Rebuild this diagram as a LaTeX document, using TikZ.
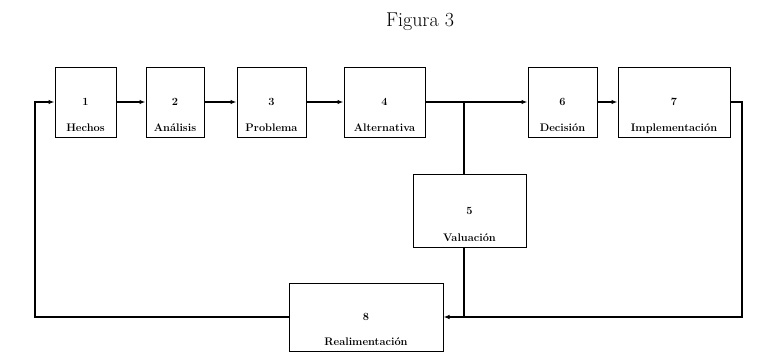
\documentclass[tikz,border=0pt]{standalone}
\usepackage{fontspec}
\usetikzlibrary{arrows.meta}
\tikzstyle{etapa} = [draw=black, line width=1pt, rectangle,
    minimum height=70pt, inner sep=0pt, font=\fontsize{11}{13}\selectfont\bfseries]
\tikzstyle{rotulo} = [anchor=south, inner sep=6pt, text depth=0pt,
    font=\fontsize{11}{13}\selectfont\bfseries\addfontfeatures{LetterSpace=15}]
\tikzstyle{flecha} = [line width=1.1pt, -{Latex[length=6pt,width=4.5pt]}]
\tikzstyle{linea} = [line width=1.1pt]
\tikzstyle{titulo} = [font=\fontsize{20}{24}\selectfont]

\begin{document}
\begin{tikzpicture}[x=1pt, y=-1pt]
\useasboundingbox (0,0) rectangle (764,357);
\node[titulo] (titulo) at (420,22) {Figura 3};
% fila de etapas
\node[etapa, minimum width=61pt, label={[rotulo]south:Hechos}] (hechos) at (85.5,102) {1};
\node[etapa, minimum width=58pt, label={[rotulo]south:Análisis}] (analisis) at (175,102) {2};
\node[etapa, minimum width=69pt, label={[rotulo]south:Problema}] (problema) at (271.5,102) {3};
\node[etapa, minimum width=81pt, label={[rotulo]south:Alternativa}] (altern) at (384.5,102) {4};
\node[etapa, minimum width=69pt, label={[rotulo]south:Decisión}] (decis) at (562.5,102) {6};
\node[etapa, minimum width=112pt, label={[rotulo]south:Implementación}] (implem) at (674,102) {7};
\node[etapa, minimum width=113pt, minimum height=73pt, label={[rotulo]south:Valuación}] (valor) at (469.5,210.5) {5};
\node[etapa, minimum width=154pt, minimum height=68pt, label={[rotulo]south:Realimentación}] (realim) at (366,317) {8};
\coordinate (nudo) at (464,102);
\coordinate (izq) at (35,317);
\coordinate (der) at (742,317);

\draw[flecha] (hechos) -- (analisis);
\draw[flecha] (analisis) -- (problema);
\draw[flecha] (problema) -- (altern);
\draw[flecha] (altern) -- (decis);
\draw[flecha] (decis) -- (implem);
\draw[linea] (nudo) -- (nudo |- valor.north);
\draw[linea] (nudo |- valor.south) -- (nudo |- realim.east);
\draw[flecha] (implem.east) -| (der) -- (realim.east);
\draw[flecha] (realim.west) -- (izq) |- (hechos.west);
\end{tikzpicture}
\end{document}
